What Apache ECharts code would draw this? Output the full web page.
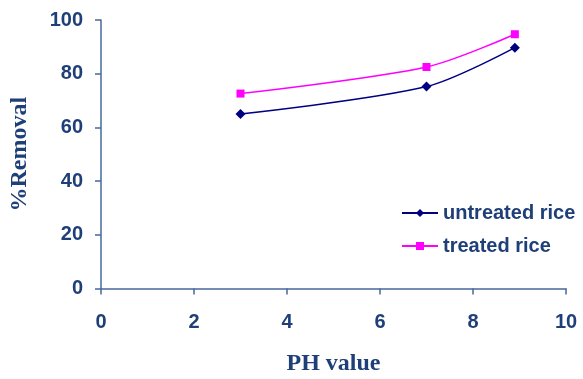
<!DOCTYPE html>
<html>
<head>
<meta charset="utf-8">
<script src="https://cdn.jsdelivr.net/npm/echarts@6/dist/echarts.min.js"></script>
<style>html,body{margin:0;padding:0;background:#fff}#c{width:583px;height:379px}</style>
</head>
<body>
<div id="c"></div>
<script>
const phValues = [3, 7, 8.9];
const untreated = [65, 75.2, 89.7];
const treated = [72.6, 82.5, 94.7];
const xTicks = [0, 2, 4, 6, 8, 10];
const yTicks = [0, 20, 40, 60, 80, 100];

const textColor = '#1F3F78';
const axisColor = '#47699B';
const sans = 'Arial, "Liberation Sans", sans-serif';
const serif = '"Times New Roman", "Liberation Serif", serif';

const chart = echarts.init(document.getElementById('c'));
chart.setOption({
  animation: false,
  backgroundColor: '#fff',
  grid: {left: 101, right: 17, top: 20, bottom: 90.5, containLabel: false, outerBoundsMode: 'none'},
  xAxis: {
    type: 'value', min: xTicks[0], max: xTicks[xTicks.length-1], interval: 2,
    name: 'PH value', nameLocation: 'middle', nameGap: 63,
    nameTextStyle: {fontFamily: serif, fontWeight: 700, fontSize: 24, color: textColor},
    axisLine: {show: true, lineStyle: {color: axisColor, width: 1.5}},
    axisTick: {show: true, length: 6, lineStyle: {color: axisColor, width: 1.5}},
    axisLabel: {margin: 24, fontFamily: sans, fontWeight: 700, fontSize: 20, color: textColor},
    splitLine: {show: false}
  },
  yAxis: {
    type: 'value', min: yTicks[0], max: yTicks[yTicks.length-1], interval: 20,
    name: '%Removal', nameLocation: 'middle', nameGap: 69,
    nameTextStyle: {fontFamily: serif, fontWeight: 700, fontSize: 24, color: textColor},
    axisLine: {show: true, lineStyle: {color: axisColor, width: 1.5}},
    axisTick: {show: true, length: 6, lineStyle: {color: axisColor, width: 1.5}},
    axisLabel: {margin: 18, fontFamily: sans, fontWeight: 700, fontSize: 20, color: textColor},
    splitLine: {show: false}
  },
  legend: {
    orient: 'vertical', left: 396, top: 198, itemGap: 13,
    itemWidth: 36, itemHeight: 10,
    textStyle: {fontFamily: sans, fontWeight: 700, fontSize: 20, color: textColor},
    data: ['untreated rice', 'treated rice']
  },
  series: [
    {
      name: 'untreated rice', type: 'line', smooth: 0.3,
      data: phValues.map((x, i) => [x, untreated[i]]),
      symbol: 'diamond', symbolSize: 10,
      lineStyle: {color: '#000080', width: 1.5},
      itemStyle: {color: '#000080'}
    },
    {
      name: 'treated rice', type: 'line', smooth: 0.3,
      data: phValues.map((x, i) => [x, treated[i]]),
      symbol: 'rect', symbolSize: 8,
      lineStyle: {color: '#FF00FF', width: 1.5},
      itemStyle: {color: '#FF00FF'}
    }
  ]
});
</script>
</body>
</html>
